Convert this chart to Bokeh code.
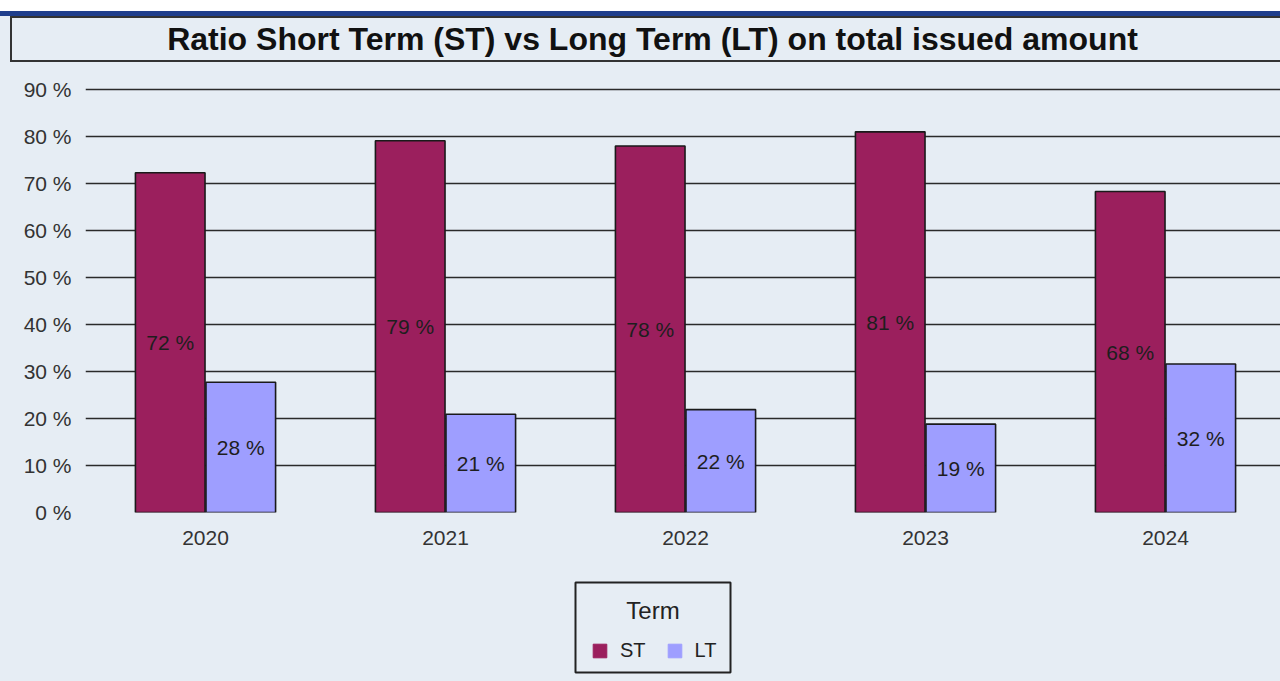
from bokeh.plotting import figure
from bokeh.models import (ColumnDataSource, FixedTicker, Range1d, Legend, LegendItem, Div)
from bokeh.layouts import column
from bokeh.core.properties import value
from bokeh.embed import file_html
from bokeh.resources import INLINE

# ---- data ----
years = ["2020", "2021", "2022", "2023", "2024"]
st_values = [72.3, 79.1, 78.0, 81.0, 68.3]
lt_values = [27.7, 20.9, 21.9, 18.8, 31.6]
y_ticks = [0, 10, 20, 30, 40, 50, 60, 70, 80, 90]
title_text = "Ratio Short Term (ST) vs Long Term (LT) on total issued amount"
legend_title = "Term"
series_names = ["ST", "LT"]

# ---- style ----
BG = "#E6EDF4"
ST_COLOR = "#9B1F5D"
LT_COLOR = "#9E9EFF"
FONT = "Liberation Sans"
BAR_W = 0.29
OFF = 0.147
W = 1280
LEFT = 85
FW = W - LEFT  # frame width in px

centers = [i + 0.5 for i in range(len(years))]
st_src = ColumnDataSource(dict(
    x=[c - OFF for c in centers], top=st_values,
    ymid=[v / 2 for v in st_values], lab=[f"{round(v)} %" for v in st_values]))
lt_src = ColumnDataSource(dict(
    x=[c + OFF for c in centers], top=lt_values,
    ymid=[v / 2 for v in lt_values], lab=[f"{round(v)} %" for v in lt_values]))

# ---- main chart ----
p = figure(width=W, height=496, output_backend="svg", toolbar_location=None,
           x_range=Range1d(0, FW / 240.0), y_range=Range1d(0, 94.05),
           min_border_left=LEFT, min_border_right=0, min_border_top=6, min_border_bottom=48,
           styles={"background-color": BG})
p.background_fill_color = BG
p.border_fill_color = BG
p.outline_line_color = None

p.vbar(x="x", top="top", width=BAR_W, bottom=0, source=st_src,
       fill_color=ST_COLOR, line_color="#1a1a1a", line_width=1.6)
p.vbar(x="x", top="top", width=BAR_W, bottom=0, source=lt_src,
       fill_color=LT_COLOR, line_color="#1a1a1a", line_width=1.6)

for src in (st_src, lt_src):
    p.text(x="x", y="ymid", text="lab", source=src, text_align="center",
           text_baseline="middle", text_font=value(FONT), text_font_size="21px",
           text_color="#1e1e1e")

p.xaxis.ticker = FixedTicker(ticks=centers)
p.xaxis.major_label_overrides = {c: y for c, y in zip(centers, years)}
p.yaxis.ticker = FixedTicker(ticks=y_ticks)
p.yaxis.major_label_overrides = {t: f"{t} %" for t in y_ticks}
for ax in (p.xaxis[0], p.yaxis[0]):
    ax.axis_line_color = None
    ax.major_tick_line_color = None
    ax.minor_tick_line_color = None
    ax.major_tick_out = 0
    ax.major_tick_in = 0
    ax.minor_tick_out = 0
    ax.major_label_text_font = FONT
    ax.major_label_text_color = "#333333"
p.xaxis.major_label_text_font_size = "21px"
p.yaxis.major_label_text_font_size = "21px"
p.yaxis.major_label_standoff = 14
p.xaxis.major_label_standoff = 18

p.xgrid.grid_line_color = None
p.ygrid.ticker = FixedTicker(ticks=y_ticks)
p.ygrid.grid_line_color = "#2a2a2a"
p.ygrid.grid_line_width = 1.7

# ---- legend panel (frame coordinates are pixels: x from frame left, y from bottom) ----
LH = 121
lg = figure(width=W, height=LH, output_backend="svg", toolbar_location=None,
            x_range=Range1d(0, FW), y_range=Range1d(0, LH),
            min_border_left=LEFT, min_border_right=0, min_border_top=0, min_border_bottom=0,
            styles={"background-color": BG})
lg.axis.visible = False
lg.grid.visible = False
lg.background_fill_color = BG
lg.border_fill_color = BG
lg.outline_line_color = None

lg.quad(left=[490], right=[645], bottom=[9], top=[99], fill_color=None,
        line_color="#222222", line_width=2)
lg.text(x=[567.5], y=[71], text=[legend_title], text_align="center", text_baseline="middle",
        text_font=value(FONT), text_font_size="24px", text_color="#222222")

r_st = lg.vbar(x="x", top="top", width=BAR_W, source=st_src, fill_color=ST_COLOR,
               line_color=ST_COLOR, visible=False)
r_lt = lg.vbar(x="x", top="top", width=BAR_W, source=lt_src, fill_color=LT_COLOR,
               line_color=LT_COLOR, visible=False)
legend = Legend(items=[LegendItem(label=series_names[0], renderers=[r_st]),
                       LegendItem(label=series_names[1], renderers=[r_lt])],
                orientation="horizontal", location=(506, 19))
legend.label_text_font = FONT
legend.label_text_font_size = "20px"
legend.label_text_color = "#222222"
legend.glyph_width = 17
legend.glyph_height = 17
legend.label_standoff = 12
legend.spacing = 20
legend.padding = 0
legend.margin = 0
legend.border_line_color = None
legend.background_fill_alpha = 0
lg.add_layout(legend, "center")

# ---- header with title box ----
title_html = f"""
<div style="width:{W}px;height:64px;background:{BG};position:relative;overflow:hidden;box-sizing:border-box;">
  <div style="position:absolute;left:0;top:0;width:{W}px;height:11px;background:#ffffff;"></div>
  <div style="position:absolute;left:0;top:11px;width:{W}px;height:5px;background:#1F3E8C;"></div>
  <div style="position:absolute;left:10px;top:16px;width:1285px;height:46px;box-sizing:border-box;
       border:2px solid #333333;background:{BG};text-align:center;line-height:42px;
       font-family:'{FONT}';font-weight:bold;font-size:32px;color:#111111;white-space:nowrap;">{title_text}</div>
</div>
"""
title_div = Div(text=title_html, width=W, height=64, margin=0, styles={"overflow": "hidden"})

layout = column(title_div, p, lg, spacing=0)
open("out.html", "w").write(file_html(layout, INLINE))
